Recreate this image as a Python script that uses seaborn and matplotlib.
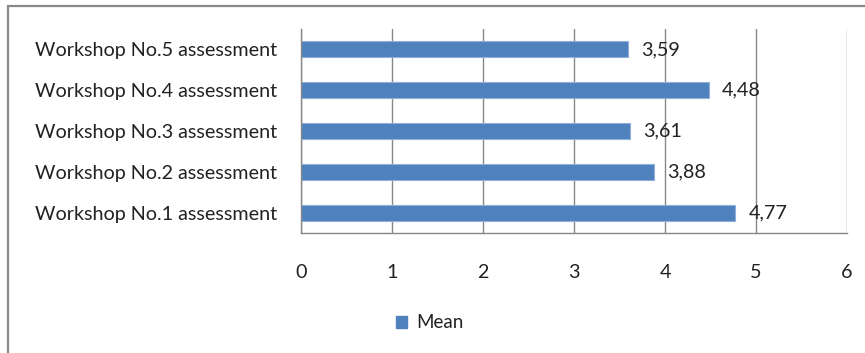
import matplotlib
matplotlib.use("Agg")
import matplotlib.pyplot as plt
import seaborn as sns
import pandas as pd
from matplotlib.lines import Line2D
from matplotlib.patches import Patch

categories = ["Workshop No.5 assessment", "Workshop No.4 assessment",
              "Workshop No.3 assessment", "Workshop No.2 assessment",
              "Workshop No.1 assessment"]
values = [3.59, 4.48, 3.61, 3.88, 4.77]
value_labels = ["3,59", "4,48", "3,61", "3,88", "4,77"]
x_ticks = [0, 1, 2, 3, 4, 5, 6]
series_name = "Mean"

sns.set_style("white")
plt.rcParams['font.family'] = ['Lato', 'DejaVu Sans']

df = pd.DataFrame({"category": categories, "value": values})

fig = plt.figure(figsize=(8.65, 3.53), dpi=100)
ax = fig.add_axes([301/865, 1-233/353, (847-301)/865, (233-29)/353])

bar_color = "#4F81BD"
sns.barplot(data=df, x="value", y="category", orient="h", color=bar_color,
            width=0.39, ax=ax, edgecolor="#8EB0DA", linewidth=0.8, saturation=1)

fs = 14.2
ax.set_xlim(0, 6)
ax.set_ylim(4.5, -0.5)
ax.set_xticks(x_ticks)
ax.set_xticklabels([str(t) for t in x_ticks], fontsize=fs, color="#222222")
ax.set_xlabel("")
ax.set_ylabel("")
ax.tick_params(axis="y", labelsize=fs, pad=17, length=0, labelcolor="#222222")
ax.tick_params(axis="x", length=7, width=1, color="#878787", pad=15, direction="out")

ax.grid(axis="x", color="#878787", linewidth=1)
ax.set_axisbelow(True)
for s in ["top", "right"]:
    ax.spines[s].set_visible(False)
ax.spines["left"].set_color("#878787")
ax.spines["bottom"].set_color("#878787")
ax.spines["left"].set_linewidth(1)
ax.spines["bottom"].set_linewidth(1)

ax.bar_label(ax.containers[0], labels=value_labels, padding=9.5, fontsize=fs,
             color="#222222")

# outer frame (left and top edges)
fig.add_artist(Line2D([8/865, 8/865], [0, 1-6/353], transform=fig.transFigure,
                      color="#888888", linewidth=1.6))
fig.add_artist(Line2D([8/865, 1], [1-6/353, 1-6/353], transform=fig.transFigure,
                      color="#888888", linewidth=1.6))

handle = Patch(facecolor=bar_color, edgecolor=bar_color)
fig.legend([handle], [series_name], loc="center", bbox_to_anchor=(0.497, 1-323/353),
           frameon=False, fontsize=13.5, handlelength=0.6, handleheight=0.6,
           handletextpad=0.5, labelcolor="#222222")

fig.savefig("out.png", dpi=100)
